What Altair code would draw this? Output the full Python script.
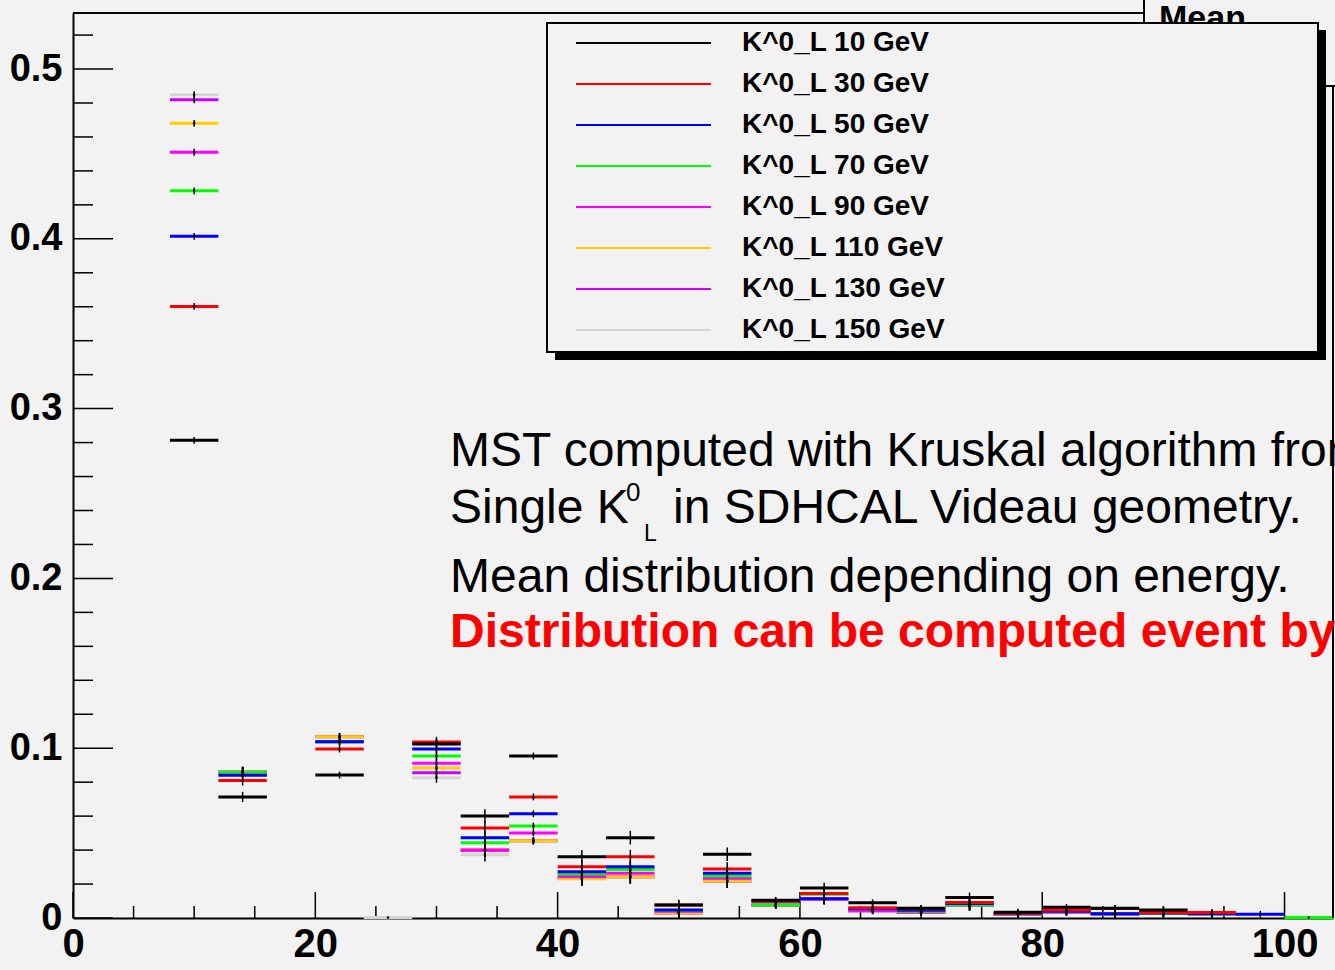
import altair as alt
import pandas as pd

# ---------------- data ----------------
series = ["K^0_L 10 GeV", "K^0_L 30 GeV", "K^0_L 50 GeV", "K^0_L 70 GeV",
          "K^0_L 90 GeV", "K^0_L 110 GeV", "K^0_L 130 GeV", "K^0_L 150 GeV"]
colors = ["#000000", "#ff0000", "#0000ff", "#00ff00",
          "#ff00ff", "#ffcc00", "#cc00ff", "#d4d4d4"]

bin_width = 4
bin_lo = [8, 12, 20, 24, 28, 32, 36, 40, 44, 48, 52, 56, 60, 64, 68, 72, 76, 80, 84, 88, 92, 96, 100]

N = None
s10  = [0.2813, 0.0713, 0.0842, N, 0.1025, 0.0601, 0.0954, 0.0361, 0.0473, 0.0077, 0.0375, 0.0104, 0.0177, 0.0090, 0.0057, 0.0120, 0.0034, 0.0063, 0.0057, 0.0047, N, N, N]
s30  = [0.3602, 0.0810, 0.0995, N, 0.1037, 0.0530, 0.0713, 0.0302, 0.0361, 0.0076, 0.0289, 0.0100, 0.0145, 0.0060, 0.0055, 0.0092, 0.0030, 0.0047, 0.0056, 0.0033, 0.0033, N, N]
s50  = [0.4015, 0.0840, 0.1038, N, 0.0995, 0.0473, 0.0614, 0.0273, 0.0302, 0.0047, 0.0263, 0.0098, 0.0114, 0.0055, 0.0045, 0.0085, 0.0028, 0.0040, 0.0025, 0.0030, 0.0025, 0.0022, N]
s70  = [0.4283, 0.0858, 0.1036, N, 0.0954, 0.0443, 0.0542, 0.0259, 0.0286, 0.0045, 0.0247, 0.0077, 0.0140, 0.0055, 0.0040, 0.0077, 0.0025, 0.0038, 0.0025, 0.0028, 0.0025, N, 0.0003]
s90  = [0.4510, 0.0858, 0.1040, N, 0.0911, 0.0400, 0.0501, 0.0245, 0.0263, 0.0040, 0.0234, 0.0077, 0.0112, 0.0043, 0.0035, 0.0075, 0.0022, 0.0036, 0.0024, 0.0028, 0.0025, N, N]
s110 = [0.4680, 0.0860, 0.1068, N, 0.0883, 0.0402, 0.0455, 0.0232, 0.0243, 0.0029, 0.0218, 0.0075, 0.0110, 0.0045, 0.0035, 0.0075, 0.0022, 0.0035, 0.0024, 0.0028, 0.0025, N, N]
s130 = [0.4819, 0.0860, 0.1068, N, 0.0856, 0.0398, 0.0455, 0.0232, 0.0243, 0.0029, 0.0218, 0.0076, 0.0112, 0.0043, 0.0033, 0.0074, 0.0021, 0.0034, 0.0024, 0.0028, 0.0025, N, N]
s150 = [0.4849, 0.0862, 0.1070, 0.0003, 0.0826, 0.0373, 0.0453, 0.0230, 0.0241, 0.0028, 0.0216, 0.0075, 0.0110, 0.0043, 0.0033, 0.0074, 0.0021, 0.0034, 0.0022, 0.0028, 0.0025, N, N]
errs = [0.002, 0.003, 0.002, 0.0003, 0.003, 0.004, 0.002, 0.004, 0.004, 0.003, 0.004, 0.002, 0.003,
        0.002, 0.002, 0.003, 0.002, 0.002, 0.002, 0.002, 0.002, 0.002, 0.0003]
all_vals = [s10, s30, s50, s70, s90, s110, s130, s150]

y_major = [0, 0.1, 0.2, 0.3, 0.4, 0.5]
y_minor = [0.02, 0.04, 0.06, 0.08, 0.12, 0.14, 0.16, 0.18, 0.22, 0.24, 0.26, 0.28,
           0.32, 0.34, 0.36, 0.38, 0.42, 0.44, 0.46, 0.48, 0.52]
x_major = [0, 20, 40, 60, 80, 100]
x_minor = [5, 10, 15, 25, 30, 35, 45, 50, 55, 65, 70, 75, 85, 90, 95]

BG = "#f2f2f2"
W, H = 1260, 905
OX, OY = 73, 13  # plot origin in page pixels

# --------------- table (150 GeV drawn first, 10 GeV last) ---------------
rows = []
for si in reversed(range(len(series))):
    for bi, lo in enumerate(bin_lo):
        v = all_vals[si][bi]
        if v is None:
            continue
        e = errs[bi]
        rows.append(dict(series=series[si], lo=lo, hi=lo + bin_width, c=lo + bin_width / 2,
                         v=v, vlo=max(0.0, v - e), vhi=v + e))
df = pd.DataFrame(rows)

xs = alt.Scale(domain=[0, 104], nice=False, zero=False)
ys = alt.Scale(domain=[0, 0.533], nice=False)

x_axis = alt.Axis(values=x_major, title=None, grid=False, ticks=False, tickSize=0,
                  domain=True, domainColor="black", domainWidth=2,
                  labelFont="Liberation Sans", labelFontWeight="bold", labelFontSize=40,
                  labelColor="black", labelPadding=6, labelFlush=False, labelBaseline="top",
                  labelExpr="format(datum.value, 'd')")
y_axis = alt.Axis(values=y_major, title=None, grid=False, ticks=False, tickSize=0,
                  domain=True, domainColor="black", domainWidth=2,
                  labelFont="Liberation Sans", labelFontWeight="bold", labelFontSize=38,
                  labelColor="black", labelPadding=11, labelFlush=False,
                  labelExpr="datum.value == 0 ? '0' : format(datum.value, '.1f')")

legend = alt.Legend(title=None, orient="none", legendX=502, legendY=9.5,
                    symbolType="stroke", symbolSize=18225, symbolStrokeWidth=2,
                    clipHeight=41, rowPadding=0, labelOffset=30, padding=0,
                    labelFont="Liberation Sans", labelFontWeight="bold", labelFontSize=28,
                    labelColor="black", labelLimit=400)

segs = alt.Chart(df).mark_rule(strokeWidth=3, strokeCap="butt").encode(
    x=alt.X("lo:Q", scale=xs, axis=x_axis),
    x2="hi:Q",
    y=alt.Y("v:Q", scale=ys, axis=y_axis),
    color=alt.Color("series:N", scale=alt.Scale(domain=series, range=colors),
                    legend=legend, sort=series),
)

errbars = alt.Chart(df).mark_rule(color="black", strokeWidth=1.5).encode(
    x="c:Q", y="vlo:Q", y2="vhi:Q")
dots = alt.Chart(df).mark_point(filled=True, color="black", size=6, opacity=1).encode(
    x="c:Q", y="v:Q")

one = pd.DataFrame({"k": [0]})

# inward ticks
ymaj = alt.Chart(pd.DataFrame({"t": y_major})).mark_rule(color="black", strokeWidth=1.5).encode(
    y="t:Q", x=alt.value(0), x2=alt.value(40))
ymin = alt.Chart(pd.DataFrame({"t": y_minor})).mark_rule(color="black", strokeWidth=1.5).encode(
    y="t:Q", x=alt.value(0), x2=alt.value(20))
xmaj = alt.Chart(pd.DataFrame({"t": x_major})).mark_rule(color="black", strokeWidth=1.5).encode(
    x="t:Q", y=alt.value(H), y2=alt.value(H - 26))
xmin = alt.Chart(pd.DataFrame({"t": x_minor})).mark_rule(color="black", strokeWidth=1.5).encode(
    x="t:Q", y=alt.value(H), y2=alt.value(H - 12))

# frame top / right
top_line = alt.Chart(one).mark_rule(color="black", strokeWidth=2).encode(
    x=alt.value(0), x2=alt.value(1144 - OX), y=alt.value(0))
right_line = alt.Chart(one).mark_rule(color="black", strokeWidth=2).encode(
    x=alt.value(W), y=alt.value(87 - OY), y2=alt.value(H))

# stats box (partially hidden)
stats_box = alt.Chart(one).mark_rect(fill=BG, stroke="black", strokeWidth=2).encode(
    x=alt.value(1144 - OX), x2=alt.value(1400 - OX), y=alt.value(-30), y2=alt.value(86 - OY))
stats_txt = alt.Chart(one).mark_text(text="Mean", font="Liberation Sans", fontWeight="bold",
                                     fontSize=34, align="left", baseline="alphabetic",
                                     color="black").encode(
    x=alt.value(1159 - OX), y=alt.value(29 - OY))

# legend box + shadow
leg_shadow = alt.Chart(one).mark_rect(fill="black").encode(
    x=alt.value(555 - OX), x2=alt.value(1326 - OX), y=alt.value(30 - OY), y2=alt.value(360 - OY))
leg_box = alt.Chart(one).mark_rect(fill=BG, stroke="black", strokeWidth=2).encode(
    x=alt.value(547 - OX), x2=alt.value(1318 - OX), y=alt.value(23 - OY), y2=alt.value(352 - OY))

# annotations
def txt(s, px, py, size, color="black", weight="normal"):
    return alt.Chart(one).mark_text(text=s, font="Liberation Sans", fontSize=size,
                                    fontWeight=weight, color=color, align="left",
                                    baseline="alphabetic").encode(
        x=alt.value(px - OX), y=alt.value(py - OY))

ann = [
    txt("MST computed with Kruskal algorithm from", 450, 466, 48),
    txt("Single K", 450, 523, 48),
    txt("0", 626, 501, 26),
    txt("L", 644, 541, 23),
    txt("in SDHCAL Videau geometry.", 673, 523, 48),
    txt("Mean distribution depending on energy.", 450, 592, 48),
    txt("Distribution can be computed event by event", 450, 647, 48, color="#ff0000", weight="bold"),
]

chart = alt.layer(
    ymaj, ymin, xmaj, xmin, segs, errbars, dots, top_line, right_line,
    stats_box, stats_txt, leg_shadow, leg_box, *ann
).resolve_scale(color="shared").properties(
    width=W, height=H, autosize="none",
    padding={"left": OX, "top": OY, "right": 1335 - OX - W, "bottom": 970 - OY - H},
    background=BG,
).configure_view(stroke=None, fill=BG)

chart.save("out.html", embed_options={"renderer": "svg", "actions": False})
